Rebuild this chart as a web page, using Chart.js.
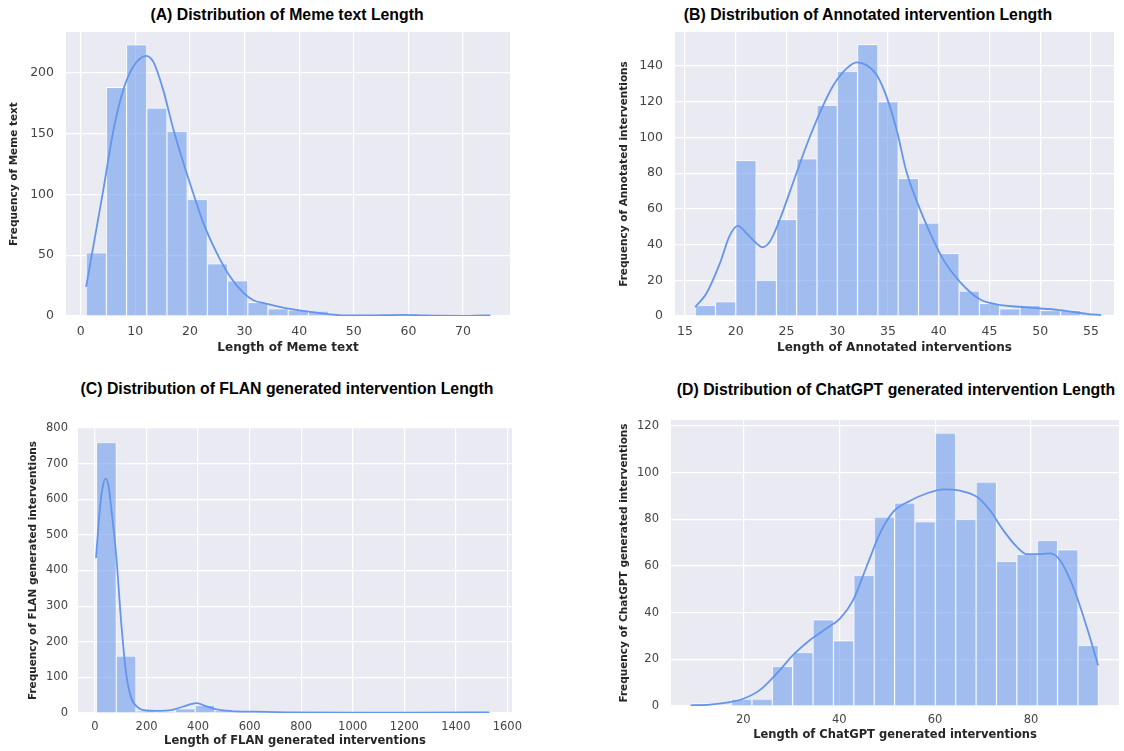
<!DOCTYPE html>
<html>
<head>
<meta charset="utf-8">
<script src="https://cdn.jsdelivr.net/npm/chart.js@4.4.0/dist/chart.umd.min.js"></script>
<style>
  body { margin: 0; background: #fff; width: 1124px; height: 751px; overflow: hidden; position: relative; }
  canvas { position: absolute; }
  .ttl {
    position: absolute; transform: translate(-50%, -50%) scaleX(0.93); white-space: nowrap;
    font-family: "Liberation Sans", Arial, sans-serif;
    font-weight: bold; font-size: 17px; color: #000;
  }
</style>
</head>
<body>
<div class="ttl" style="left:287px;top:15px">(A) Distribution of Meme text Length</div>
<div class="ttl" style="left:868px;top:15px">(B) Distribution of Annotated intervention Length</div>
<div class="ttl" style="left:287px;top:389px">(C) Distribution of FLAN generated intervention Length</div>
<div class="ttl" style="left:896px;top:390px">(D) Distribution of ChatGPT generated intervention Length</div>
<script>
// (A) meme text length
const memeBinStart = 1, memeBinWidth = 3.7
const memeCounts = [52, 188, 223, 171, 152, 96, 43, 29, 11, 6, 5, 4, 1, 1, 1, 1, 1, 0, 0, 1]
const memeKdeX = [1, 2.3, 4.15, 6, 7.8, 9.6, 12, 13.3, 15.1, 17, 18.8, 20.6, 22.5, 24.9, 27.4, 29.8, 31.6, 34.1, 37.7, 41.7, 45.7, 48.1, 51.8, 56, 59.1, 62.8, 66, 70.1, 73.7, 75]
const memeKdeY = [24, 57, 104, 153, 186, 205, 214, 209, 186, 153, 126, 101, 76, 52, 32, 19, 13, 10, 6.3, 3.6, 1.4, 0.5, 0.4, 0.6, 1, 0.4, 0.2, 0.1, 0.4, 0.5]
const memeXTicks = [0, 10, 20, 30, 40, 50, 60, 70]
const memeYTicks = [0, 50, 100, 150, 200]

// (B) annotated interventions
const annBinStart = 16, annBinWidth = 2
const annCounts = [6, 8, 87, 20, 54, 88, 118, 137, 152, 120, 77, 52, 35, 14, 7, 4, 6, 3, 3, 1]
const annKdeX = [16, 17.1, 18.4, 19.4, 20.2, 21.1, 22.1, 22.6, 23.4, 24.4, 25.7, 27, 28.3, 29.6, 30.9, 31.9, 32.9, 33.9, 34.9, 35.9, 36.8, 38.2, 39.5, 40.5, 42.1, 44, 45.7, 48.7, 51.9, 54.6, 56]
const annKdeY = [5, 12.6, 29, 45, 50.5, 46, 40.4, 38.5, 42, 55, 75.6, 96, 114, 129, 138.5, 142, 140.4, 134.8, 122, 103, 81, 59, 42, 31, 19, 9.5, 6.5, 4.8, 3.3, 1.2, 0.5]
const annXTicks = [15, 20, 25, 30, 35, 40, 45, 50, 55]
const annYTicks = [0, 20, 40, 60, 80, 100, 120, 140]

// (C) FLAN generated interventions
const flanBinStart = 6, flanBinWidth = 76.5
const flanCounts = [760, 160, 6, 4, 12, 22, 7, 3, 2, 1, 1, 1, 0, 0, 1, 0, 0, 0, 1, 2]
const flanKdeX = [4, 19, 30, 41, 52, 63, 82, 101, 120, 139, 166, 200, 236, 300, 364, 396, 428, 466, 530, 620, 747, 1002, 1258, 1450, 1530]
const flanKdeY = [435, 575, 635, 658, 640, 575, 445, 260, 115, 46, 16, 7, 6, 9, 23, 28, 20, 11, 5.5, 3.7, 2, 1, 1, 1.5, 2]
const flanXTicks = [0, 200, 400, 600, 800, 1000, 1200, 1400, 1600]
const flanYTicks = [0, 100, 200, 300, 400, 500, 600, 700, 800]

// (D) ChatGPT generated interventions
const gptBinStart = 9.05, gptBinWidth = 4.25
const gptCounts = [1, 0, 3, 3, 17, 23, 37, 28, 56, 81, 87, 79, 117, 80, 96, 62, 65, 71, 67, 26]
const gptKdeX = [9, 13, 16.5, 20, 23.5, 27, 30.4, 33.9, 37.4, 40.2, 42.9, 45.7, 48.5, 51.3, 54.8, 58.2, 61.7, 65.2, 68.7, 71.4, 74.2, 77, 79.1, 81.2, 84, 86, 88.8, 91.6, 94]
const gptKdeY = [0.3, 0.6, 1.4, 3.1, 6.9, 14, 21.9, 28.3, 33.3, 37.6, 45.4, 59.7, 74, 83.3, 88, 91.1, 92.9, 92.3, 89.7, 84, 75.4, 68.3, 65.1, 65.1, 65.4, 62.6, 51, 34, 17.5]
const gptXTicks = [20, 40, 60, 80]
const gptYTicks = [0, 20, 40, 60, 80, 100, 120]

const bgPlugin = {
    id: 'bg',
    beforeDraw(chart) {
        const {ctx, chartArea: a} = chart
        ctx.save()
        ctx.fillStyle = '#EAEAF2'
        ctx.fillRect(a.left, a.top, a.right - a.left, a.bottom - a.top)
        ctx.restore()
    }
}

function drawHist(p) {
    const canvas = document.createElement('canvas')
    const left = p.area.l - p.yw, top = p.area.t - 10
    const w = p.area.r + p.pr - left, h = p.area.b + p.xh - top
    canvas.width = w
    canvas.height = h
    canvas.style.left = left + 'px'
    canvas.style.top = top + 'px'
    document.body.appendChild(canvas)

    const bars = p.counts.map((c, i) => ({x: p.binStart + (i + 0.5) * p.binWidth, y: c}))
    const kde = p.kdeX.map((x, i) => ({x: x, y: p.kdeY[i]}))
    const tickFont = {family: 'DejaVu Sans', size: p.tickSize}

    new Chart(canvas, {
        type: 'bar',
        data: {
            datasets: [
                {
                    type: 'line', data: kde, order: 0,
                    borderColor: '#6495ED', borderWidth: 1.8, pointRadius: 0,
                    cubicInterpolationMode: 'monotone', fill: false
                },
                {
                    type: 'bar', data: bars, order: 1,
                    backgroundColor: 'rgba(100,149,237,0.55)', borderColor: '#ffffff', borderWidth: 0.8,
                    barPercentage: 1, categoryPercentage: 1
                }
            ]
        },
        options: {
            responsive: false,
            animation: false,
            layout: {padding: {top: 10, right: p.pr, left: 0, bottom: 0}},
            plugins: {legend: {display: false}, tooltip: {enabled: false}},
            scales: {
                x: {
                    type: 'linear', min: p.xMin, max: p.xMax, offset: false,
                    grid: {color: '#ffffff', lineWidth: 1.2, drawTicks: false, offset: false},
                    border: {display: false},
                    ticks: {padding: p.xPad, font: tickFont, color: '#444', includeBounds: false, maxRotation: 0,
                            callback: v => String(v)},
                    afterBuildTicks: s => { s.ticks = p.xTicks.map(v => ({value: v})) },
                    afterFit: s => { s.height = p.xh; s.paddingLeft = 0; s.paddingRight = 0 },
                    title: {
                        display: true, text: p.xTitle, color: '#262626',
                        font: {family: 'DejaVu Sans', size: p.xTitleSize, weight: 'bold'},
                        padding: {top: 0, bottom: p.xTitlePad}
                    }
                },
                y: {
                    type: 'linear', min: 0, max: p.yMax,
                    grid: {color: '#ffffff', lineWidth: 1.2, drawTicks: false},
                    border: {display: false},
                    ticks: {padding: p.yPad, font: tickFont, color: '#444', includeBounds: false,
                            callback: v => String(v)},
                    afterBuildTicks: s => { s.ticks = p.yTicks.map(v => ({value: v})) },
                    afterFit: s => { s.width = p.yw; s.paddingTop = 0; s.paddingBottom = 0 },
                    title: {
                        display: true, text: p.yTitle, color: '#262626',
                        font: {family: 'DejaVu Sans', size: 10.5, weight: 'bold'},
                        padding: {top: p.yTitlePad, bottom: 0}
                    }
                }
            }
        },
        plugins: [bgPlugin]
    })
}

drawHist({
    area: {l: 66, t: 32, r: 510, b: 316}, yw: 66, xh: 42, pr: 10,
    binStart: memeBinStart, binWidth: memeBinWidth, counts: memeCounts, kdeX: memeKdeX, kdeY: memeKdeY,
    xMin: -2.69, xMax: 78.6, yMax: 233.6, xTicks: memeXTicks, yTicks: memeYTicks,
    tickSize: 12.5, xPad: 8, yPad: 12, xTitleSize: 12, xTitlePad: 2.8, yTitlePad: 8.2,
    xTitle: 'Length of Meme text', yTitle: 'Frequency of Meme text'
})
drawHist({
    area: {l: 675, t: 32, r: 1114, b: 316}, yw: 65, xh: 42, pr: 8,
    binStart: annBinStart, binWidth: annBinWidth, counts: annCounts, kdeX: annKdeX, kdeY: annKdeY,
    xMin: 14.01, xMax: 57.26, yMax: 159, xTicks: annXTicks, yTicks: annYTicks,
    tickSize: 12.5, xPad: 8, yPad: 12, xTitleSize: 12, xTitlePad: 2.8, yTitlePad: 7.7,
    xTitle: 'Length of Annotated interventions', yTitle: 'Frequency of Annotated interventions'
})
drawHist({
    area: {l: 78, t: 428, r: 512, b: 713}, yw: 60, xh: 37, pr: 24,
    binStart: flanBinStart, binWidth: flanBinWidth, counts: flanCounts, kdeX: flanKdeX, kdeY: flanKdeY,
    xMin: -66, xMax: 1618, yMax: 800, xTicks: flanXTicks, yTicks: flanYTicks,
    tickSize: 11.5, xPad: 7, yPad: 10, xTitleSize: 11.5, xTitlePad: 2.1, yTitlePad: 8.7,
    xTitle: 'Length of FLAN generated interventions', yTitle: 'Frequency of FLAN generated interventions'
})
drawHist({
    area: {l: 671, t: 420, r: 1119, b: 706}, yw: 61, xh: 38, pr: 4,
    binStart: gptBinStart, binWidth: gptBinWidth, counts: gptCounts, kdeX: gptKdeX, kdeY: gptKdeY,
    xMin: 4.92, xMax: 98.35, yMax: 122.6, xTicks: gptXTicks, yTicks: gptYTicks,
    tickSize: 11.5, xPad: 7, yPad: 12, xTitleSize: 11.5, xTitlePad: 1.6, yTitlePad: 7.7,
    xTitle: 'Length of ChatGPT generated interventions', yTitle: 'Frequency of ChatGPT generated interventions'
})
</script>
</body>
</html>
